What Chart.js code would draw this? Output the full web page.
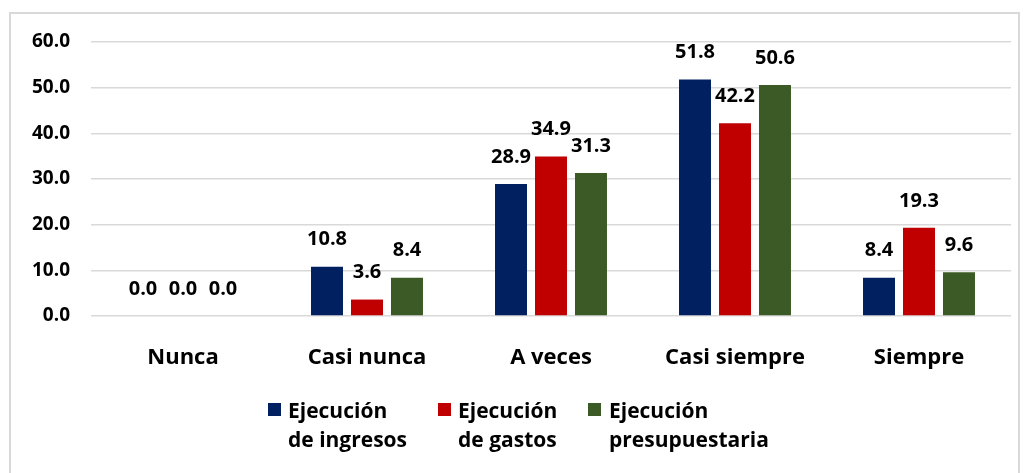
<!DOCTYPE html>
<html>
<head>
<meta charset="utf-8">
<script src="https://cdn.jsdelivr.net/npm/chart.js@4.4.1/dist/chart.umd.min.js"></script>
<style>
    html, body { margin: 0; padding: 0; background: #fff; }
    #wrap { position: relative; width: 1027px; height: 473px; }
    #frame { position: absolute; left: 9px; top: 12px; width: 1011px; height: 470px; border: 2px solid #d9d9d9; box-sizing: border-box; }
    canvas { position: absolute; left: 0; top: 0; }
    .legend { position: absolute; top: 396px; font-family: "Open Sans", sans-serif; font-weight: bold; font-size: 21px; line-height: 29px; color: #000; }
    .legend .sw { position: absolute; left: 0; top: 7px; width: 13px; height: 13px; }
    .legend .tx { position: absolute; top: 0; white-space: nowrap; }
</style>
</head>
<body>
<div id="wrap">
    <div id="frame"></div>
    <canvas id="chart" width="1027" height="473"></canvas>
    <div id="legend"></div>
</div>
<script>
// chart values
const categories = ['Nunca', 'Casi nunca', 'A veces', 'Casi siempre', 'Siempre'];
const seriesNames = [['Ejecución', 'de ingresos'], ['Ejecución', 'de gastos'], ['Ejecución', 'presupuestaria']];
const ingresos = [0.0, 10.8, 28.9, 51.8, 8.4];
const gastos = [0.0, 3.6, 34.9, 42.2, 19.3];
const presupuestaria = [0.0, 8.4, 31.3, 50.6, 9.6];
const yTicks = [0, 10, 20, 30, 40, 50, 60];

const colors = ['#002060', '#C00000', '#3B5A25'];
const fontFamily = '"Open Sans", sans-serif';

// draws the value above each bar
const valueLabels = {
    id: 'valueLabels',
    afterDatasetsDraw(chart) {
        const ctx = chart.ctx;
        ctx.save();
        ctx.font = 'bold 20px ' + fontFamily;
        ctx.fillStyle = '#000';
        ctx.textAlign = 'center';
        ctx.textBaseline = 'middle';
        chart.data.datasets.forEach((ds, i) => {
            chart.getDatasetMeta(i).data.forEach((bar, j) => {
                ctx.fillText(ds.data[j].toFixed(1), bar.x, bar.y - 27);
            });
        });
        ctx.restore();
    }
};

const ctx = document.getElementById('chart').getContext('2d');
new Chart(ctx, {
    type: 'bar',
    data: {
        labels: categories,
        datasets: [ingresos, gastos, presupuestaria].map((d, i) => ({
            label: seriesNames[i].join(' '),
            data: d,
            backgroundColor: colors[i],
            categoryPercentage: 0.652,
            barPercentage: 0.8
        }))
    },
    options: {
        responsive: false,
        animation: false,
        layout: { padding: { left: 0, top: 42, right: 16, bottom: 0 } },
        plugins: {
            legend: { display: false },
            tooltip: { enabled: false }
        },
        scales: {
            x: {
                grid: { display: false },
                border: { display: false },
                ticks: {
                    padding: 21,
                    color: '#000',
                    font: { family: fontFamily, size: 22, weight: 'bold' }
                },
                afterFit(scale) { scale.height = 157; }
            },
            y: {
                min: 0,
                max: 60,
                afterBuildTicks(scale) { scale.ticks = yTicks.map(v => ({ value: v })); },
                grid: { color: '#d9d9d9', lineWidth: 1.5, drawTicks: false },
                border: { display: false },
                ticks: {
                    padding: 21,
                    color: '#000',
                    font: { family: fontFamily, size: 19, weight: 'bold' },
                    callback: v => v.toFixed(1)
                },
                afterFit(scale) { scale.width = 91; }
            }
        }
    },
    plugins: [valueLabels]
});

// legend with wrapped labels
const legendPos = [268, 438, 588];
const legendText = [20, 20, 21];
const legend = document.getElementById('legend');
seriesNames.forEach((name, i) => {
    const item = document.createElement('div');
    item.className = 'legend';
    item.style.left = legendPos[i] + 'px';
    item.innerHTML = '<div class="sw" style="background:' + colors[i] + '"></div>' +
        '<div class="tx" style="left:' + legendText[i] + 'px">' + name.join('<br>') + '</div>';
    legend.appendChild(item);
});
</script>
</body>
</html>
